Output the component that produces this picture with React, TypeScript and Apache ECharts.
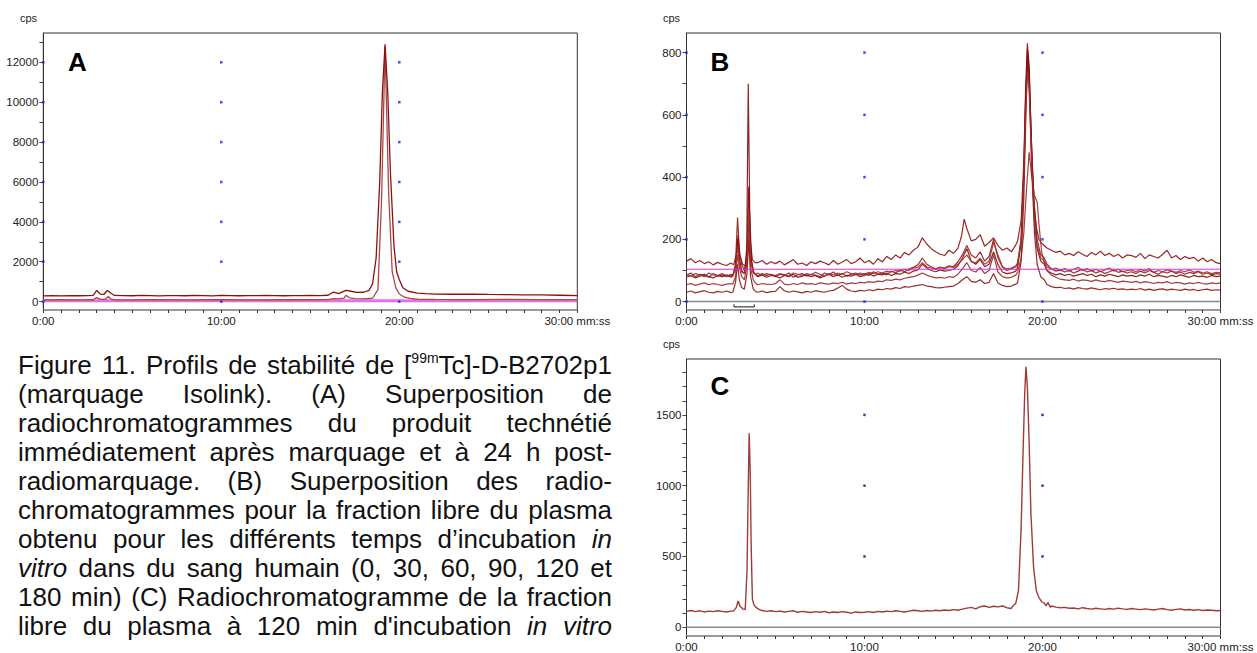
import React, { useEffect, useRef } from "react";
import * as echarts from "echarts";

// ---------- DATA ----------
const STEP = 0.25; // minutes between baseline samples

// Panel A: two superposed chromatograms ([minutes, cps])
const A_UPPER: [number, number][] = [
  [0, 290], [0.5, 300], [1, 285], [1.5, 305], [2, 295], [2.5, 300], [2.8, 310], [3.0, 560], [3.2, 380], [3.4, 360],
  [3.6, 560], [3.8, 420], [4.0, 310], [4.5, 300], [5, 295], [5.5, 310], [6, 300], [6.5, 290], [7, 305], [7.5, 300],
  [8, 295], [8.5, 310], [9, 300], [9.5, 285], [10, 310], [10.5, 300], [11, 295], [11.5, 305], [12, 300], [12.5, 310],
  [13, 300], [13.5, 295], [14, 305], [14.5, 300], [15, 310], [15.5, 305], [16, 320], [16.3, 480], [16.6, 400], [17.0, 560],
  [17.3, 520], [17.6, 460], [18.0, 470], [18.3, 560], [18.5, 900], [18.7, 2200], [18.9, 6000], [19.05, 10500], [19.2, 12900], [19.35, 10500],
  [19.5, 6500], [19.7, 2800], [19.85, 1500], [20.0, 1100], [20.2, 700], [20.5, 520], [21, 430], [21.5, 400], [22, 380], [23, 370],
  [24, 375], [25, 360], [26, 350], [27, 335], [28, 340], [29, 320], [30, 300],
];
const A_LOWER: [number, number][] = [
  [0, 90], [1, 95], [2, 90], [2.8, 95], [3.0, 200], [3.2, 110], [3.5, 120], [3.65, 260], [3.8, 130], [4.0, 95],
  [5, 90], [6, 95], [8, 90], [10, 95], [12, 90], [14, 95], [16, 100], [16.3, 150], [16.6, 140], [16.9, 180],
  [17.0, 320], [17.2, 190], [17.5, 150], [18, 140], [18.5, 170], [18.8, 600], [19.0, 5000], [19.2, 12800], [19.4, 5500], [19.6, 1500],
  [19.8, 700], [20.0, 380], [20.3, 220], [20.6, 160], [21, 120], [22, 110], [24, 105], [26, 110], [28, 100], [30, 105],
];
const A_THRESHOLD = 60;
const A_TICKS = [0, 1000, 2000, 3000, 4000, 5000, 6000, 7000, 8000, 9000, 10000, 11000, 12000, 13000];
const A_LABELS = [0, 2000, 4000, 6000, 8000, 10000, 12000];

// Panel B: six incubation times, baseline values every STEP minutes + peak clusters
const B1_BASE = [
  130, 138, 125, 132, 122, 128, 118, 126, 120, 116, 124, 130, 140, 130, 125, 128, 125, 132, 120, 128,
  122, 130, 118, 126, 135, 120, 124, 116, 128, 122, 130, 125, 118, 132, 120, 127, 135, 122, 128, 140,
  125, 132, 120, 138, 128, 145, 135, 150, 140, 158, 150, 165, 175, 205, 185, 170, 160, 152, 148, 165,
  155, 172, 205, 250, 195, 200, 215, 178, 190, 205, 180, 165, 172, 160, 182, 200, 500, 800, 400, 210,
  190, 172, 165, 158, 162, 150, 155, 148, 160, 152, 145, 158, 150, 162, 148, 155, 145, 152, 140, 150,
  148, 142, 155, 138, 150, 145, 140, 152, 165, 140, 148, 135, 145, 138, 142, 130, 140, 128, 135, 125, 122,
];
const B1_PEAKS: [number, number][][] = [
  [[2.65, 118], [2.8, 150], [2.9, 215], [3.0, 150], [3.15, 120], [3.3, 115], [3.42, 200], [3.5, 370], [3.58, 200], [3.7, 135], [3.85, 125]],
  [[15.45, 210], [15.6, 265], [15.75, 235]],
  [[18.6, 195], [18.8, 260], [18.95, 450], [19.05, 680], [19.15, 830], [19.25, 760], [19.35, 560], [19.5, 330], [19.65, 240], [19.8, 200], [20.0, 185]],
];
const B2_BASE = [
  85, 92, 80, 88, 84, 78, 90, 82, 86, 80, 84, 95, 100, 90, 95, 88, 82, 90, 84, 88,
  80, 88, 84, 92, 78, 86, 90, 82, 88, 84, 80, 92, 86, 95, 84, 90, 82, 88, 92, 86,
  90, 84, 96, 88, 92, 86, 98, 92, 102, 96, 105, 110, 118, 140, 120, 112, 105, 110, 108, 115,
  112, 128, 150, 180, 150, 140, 160, 130, 145, 200, 140, 110, 100, 105, 112, 120, 300, 600, 300, 160,
  140, 120, 105, 98, 102, 95, 100, 92, 98, 104, 95, 100, 92, 98, 90, 96, 102, 94, 98, 92,
  96, 90, 98, 92, 100, 94, 88, 96, 92, 98, 90, 95, 88, 94, 90, 96, 88, 92, 86, 90, 88,
];
const B2_PEAKS: [number, number][][] = [
  [[2.6, 82], [2.75, 120], [2.87, 270], [2.97, 160], [3.1, 120], [3.25, 100], [3.4, 140], [3.5, 360], [3.6, 150], [3.75, 95], [3.9, 88]],
  [[18.6, 120], [18.8, 200], [18.95, 420], [19.05, 650], [19.15, 790], [19.25, 720], [19.4, 480], [19.55, 300], [19.7, 200], [19.9, 150], [20.1, 140]],
];
const B3_BASE = [
  78, 84, 76, 82, 88, 80, 76, 84, 80, 86, 78, 84, 90, 86, 82, 84, 80, 86, 78, 84,
  82, 76, 84, 80, 88, 78, 82, 86, 80, 84, 76, 82, 88, 80, 86, 78, 84, 82, 88, 80,
  84, 90, 82, 88, 86, 92, 84, 90, 88, 95, 90, 98, 102, 120, 108, 100, 96, 102, 98, 100,
  104, 115, 140, 170, 130, 120, 135, 112, 120, 160, 118, 95, 90, 92, 98, 110, 280, 560, 300, 150,
  120, 100, 92, 86, 90, 84, 88, 82, 86, 90, 84, 88, 80, 86, 82, 88, 84, 80, 86, 82,
  84, 80, 86, 82, 88, 80, 84, 82, 78, 84, 80, 86, 82, 78, 84, 80, 82, 78, 84, 80, 82,
];
const B3_PEAKS: [number, number][][] = [
  [[2.6, 84], [2.75, 110], [2.87, 200], [2.97, 140], [3.1, 100], [3.25, 90], [3.38, 150], [3.47, 700], [3.55, 300], [3.65, 130], [3.8, 90], [3.95, 84]],
  [[18.6, 110], [18.8, 190], [18.95, 400], [19.05, 640], [19.15, 810], [19.25, 740], [19.4, 460], [19.55, 260], [19.7, 170], [19.9, 130], [20.1, 120]],
];
const B4_BASE = [
  55, 58, 52, 56, 60, 54, 58, 55, 52, 56, 58, 60, 62, 58, 55, 56, 54, 58, 56, 55,
  58, 70, 56, 54, 58, 55, 60, 56, 58, 55, 60, 58, 56, 60, 58, 62, 56, 60, 58, 62,
  60, 64, 62, 66, 64, 70, 68, 72, 70, 75, 78, 80, 85, 92, 85, 80, 76, 78, 75, 80,
  78, 88, 105, 125, 100, 95, 110, 90, 100, 150, 95, 80, 76, 78, 85, 95, 160, 300, 470, 330,
  140, 100, 85, 78, 72, 70, 68, 72, 66, 70, 68, 65, 70, 66, 64, 68, 65, 62, 66, 64,
  62, 65, 60, 64, 62, 58, 62, 60, 64, 58, 62, 60, 56, 60, 58, 62, 58, 56, 60, 58, 60,
];
const B4_PEAKS: [number, number][][] = [
  [[2.6, 56], [2.75, 80], [2.87, 150], [2.97, 110], [3.1, 80], [3.25, 70], [3.4, 120], [3.5, 250], [3.6, 110], [3.75, 70], [3.9, 58]],
  [[18.6, 95], [18.8, 140], [18.95, 220], [19.1, 360], [19.25, 480], [19.4, 400], [19.55, 340], [19.7, 320], [19.8, 250], [19.95, 160], [20.1, 125]],
];
const B5_BASE = [
  30, 34, 28, 32, 35, 30, 28, 33, 30, 34, 29, 32, 35, 30, 28, 32, 30, 34, 29, 32,
  33, 48, 35, 30, 34, 31, 28, 33, 30, 35, 32, 30, 34, 36, 44, 52, 40, 34, 32, 36,
  34, 38, 35, 40, 38, 42, 40, 45, 42, 48, 46, 50, 52, 55, 50, 48, 45, 44, 46, 48,
  50, 58, 70, 80, 65, 62, 70, 58, 62, 90, 60, 52, 48, 50, 56, 65, 300, 600, 300, 100,
  70, 55, 48, 45, 46, 42, 44, 40, 45, 42, 40, 44, 41, 38, 42, 40, 43, 39, 41, 38,
  40, 38, 42, 37, 40, 36, 39, 41, 37, 40, 38, 36, 40, 37, 39, 35, 38, 40, 36, 38, 37,
];
const B5_PEAKS: [number, number][][] = [
  [[2.6, 30], [2.75, 60], [2.87, 120], [2.97, 70], [3.1, 45], [3.25, 40], [3.4, 90], [3.5, 200], [3.6, 80], [3.75, 40], [3.9, 32]],
  [[18.6, 60], [18.8, 130], [18.95, 330], [19.05, 560], [19.15, 760], [19.25, 700], [19.4, 420], [19.55, 220], [19.7, 120], [19.9, 80], [20.1, 70]],
];
const B6_BASE = [
  88, 82, 90, 86, 80, 92, 86, 84, 90, 82, 88, 92, 96, 88, 90, 86, 92, 84, 90, 86,
  84, 90, 86, 82, 92, 88, 84, 90, 86, 94, 88, 82, 90, 86, 92, 88, 96, 90, 86, 92,
  88, 94, 90, 96, 92, 98, 95, 100, 98, 104, 100, 108, 110, 125, 112, 108, 104, 110, 106, 112,
  110, 120, 135, 150, 128, 125, 140, 120, 130, 190, 150, 112, 105, 108, 115, 125, 300, 550, 300, 150,
  130, 112, 104, 108, 100, 106, 98, 104, 110, 100, 106, 98, 104, 96, 102, 108, 98, 104, 96, 100,
  102, 96, 104, 98, 106, 94, 100, 96, 102, 98, 94, 100, 96, 102, 94, 98, 92, 96, 90, 94, 92,
];
const B6_PEAKS: [number, number][][] = [
  [[2.6, 86], [2.75, 100], [2.87, 180], [2.97, 120], [3.1, 95], [3.25, 90], [3.4, 130], [3.5, 300], [3.6, 130], [3.75, 92], [3.9, 88]],
  [[18.6, 125], [18.8, 200], [18.95, 400], [19.05, 600], [19.15, 740], [19.25, 680], [19.4, 440], [19.55, 260], [19.7, 180], [19.9, 140], [20.1, 130]],
];
const B_THRESHOLD = 104;
const B_BRACKET: [number, number][] = [[2.67, -9], [2.67, -17], [3.81, -17], [3.81, -9]];
const B_TICKS = [0, 100, 200, 300, 400, 500, 600, 700, 800];
const B_LABELS = [0, 200, 400, 600, 800];

// Panel C: plasma free fraction at 120 min
const C_BASE = [
  112, 118, 110, 116, 108, 114, 110, 116, 112, 108, 114, 118, 150, 130, 125, 140, 125, 118, 112, 116,
  110, 114, 108, 112, 116, 106, 112, 108, 104, 110, 106, 112, 102, 108, 104, 110, 106, 100, 108, 104,
  106, 110, 104, 112, 108, 114, 110, 116, 112, 108, 114, 120, 116, 112, 118, 114, 120, 116, 122, 118,
  124, 120, 128, 135, 140, 130, 145, 150, 140, 148, 144, 150, 138, 132, 140, 160, 300, 900, 1500, 1200,
  160, 165, 150, 142, 138, 140, 134, 136, 130, 138, 132, 128, 134, 130, 126, 132, 128, 135, 130, 126,
  132, 128, 124, 130, 126, 122, 128, 132, 124, 120, 126, 130, 122, 125, 120, 124, 118, 122, 120, 116, 118,
];
const C_PEAKS: [number, number][][] = [
  [[2.65, 115], [2.8, 140], [2.9, 185], [3.0, 150], [3.15, 130], [3.3, 125], [3.4, 400], [3.47, 1000], [3.52, 1370], [3.58, 1100], [3.63, 600], [3.7, 200], [3.78, 160], [3.9, 140], [4.1, 125]],
  [[18.3, 145], [18.5, 170], [18.65, 260], [18.8, 700], [18.9, 1200], [19.0, 1650], [19.07, 1840], [19.15, 1700], [19.25, 1300], [19.35, 800], [19.5, 420], [19.65, 260], [19.8, 210], [19.95, 180], [20.1, 170], [20.2, 150], [20.3, 175], [20.45, 140]],
];
const C_TICKS = [0, 100, 200, 300, 400, 500, 600, 700, 800, 900, 1000, 1100, 1200, 1300, 1400, 1500, 1600, 1700, 1800];
const C_LABELS = [0, 500, 1000, 1500];

const DOT_TIMES = [0, 10, 20];
const DOT_TIMES_C = [10, 20];

// ---------- HELPERS ----------
function merge(base: number[], peaks: [number, number][][]): [number, number][] {
  const pts: [number, number][] = [];
  base.forEach((v, i) => {
    const t = i * STEP;
    const inside = peaks.some((c) => t >= c[0][0] && t <= c[c.length - 1][0]);
    if (!inside) pts.push([t, v]);
  });
  peaks.forEach((c) => c.forEach((p) => pts.push(p)));
  pts.sort((a, b) => a[0] - b[0]);
  return pts;
}

function dots(times: number[], values: number[]): [number, number][] {
  const out: [number, number][] = [];
  times.forEach((t) => values.forEach((v) => out.push([t, v])));
  return out;
}

const FONT = "'Liberation Sans', Arial, sans-serif";
const LABEL_COLOR = "#222";

function xAxis(gridIndex: number) {
  return {
    type: "value",
    gridIndex,
    min: 0,
    max: 30,
    interval: 10,
    axisLine: { show: true, onZero: false, lineStyle: { color: "#9a9a9a", width: 1.5 } },
    axisTick: { show: true, inside: false, length: 3, lineStyle: { color: "#333" } },
    minorTick: { show: true, splitNumber: 10, length: 3, lineStyle: { color: "#333" } },
    splitLine: { show: false },
    minorSplitLine: { show: false },
    axisLabel: {
      show: true,
      margin: 5,
      fontSize: 11.5,
      fontFamily: FONT,
      color: LABEL_COLOR,
      showMaxLabel: true,
      showMinLabel: true,
      hideOverlap: false,
      formatter: (v: number) => (v === 30 ? "30:00 mm:ss" : `${v}:00`),
    },
  };
}

function yAxis(gridIndex: number, min: number, max: number, ticks: number[], labels: number[]) {
  return {
    type: "value",
    gridIndex,
    min,
    max,
    axisLine: { show: true, onZero: false, lineStyle: { color: "#333", width: 1 } },
    axisTick: { show: true, inside: false, length: 4, customValues: ticks, lineStyle: { color: "#444" } },
    splitLine: { show: false },
    axisLabel: {
      show: true,
      margin: 5,
      fontSize: 11.5,
      fontFamily: FONT,
      color: LABEL_COLOR,
      customValues: labels,
      formatter: (v: number) => `${v}`,
    },
  };
}

function trace(idx: number, data: [number, number][], color: string, width = 1.2, opacity = 1) {
  return {
    type: "line",
    xAxisIndex: idx,
    yAxisIndex: idx,
    data,
    showSymbol: false,
    symbol: "none",
    silent: true,
    lineStyle: { color, width, opacity },
    z: 3,
  };
}

function hline(idx: number, value: number, color: string, width: number, z = 2) {
  return {
    type: "line",
    xAxisIndex: idx,
    yAxisIndex: idx,
    data: [[0, value], [30, value]],
    showSymbol: false,
    symbol: "none",
    silent: true,
    lineStyle: { color, width },
    z,
  };
}

function dotSeries(idx: number, data: [number, number][], color: string) {
  return {
    type: "scatter",
    xAxisIndex: idx,
    yAxisIndex: idx,
    data,
    symbol: "rect",
    symbolSize: 2.5,
    silent: true,
    itemStyle: { color },
    z: 5,
  };
}

export default function App() {
  const ref = useRef<HTMLDivElement>(null);

  useEffect(() => {
    if (!ref.current) return;
    const chart = echarts.init(ref.current, undefined, { renderer: "svg" });

    const B_TRACES = [
      merge(B1_BASE, B1_PEAKS),
      merge(B2_BASE, B2_PEAKS),
      merge(B3_BASE, B3_PEAKS),
      merge(B4_BASE, B4_PEAKS),
      merge(B5_BASE, B5_PEAKS),
      merge(B6_BASE, B6_PEAKS),
    ];
    const B_COLORS = ["#8b1010", "#901c1c", "#7f0c0c", "#9a2a2a", "#8b1414", "#a03030"];

    const option: any = {
      animation: false,
      backgroundColor: "#fff",
      grid: [
        { left: 43.3, top: 33, width: 534, height: 277, show: true, borderColor: "#333", borderWidth: 1 },
        { left: 686.5, top: 33, width: 534, height: 277, show: true, borderColor: "#333", borderWidth: 1 },
        { left: 686.5, top: 359, width: 534, height: 277, show: true, borderColor: "#333", borderWidth: 1 },
      ],
      xAxis: [xAxis(0), xAxis(1), xAxis(2)],
      yAxis: [
        yAxis(0, -420, 13470, A_TICKS, A_LABELS),
        yAxis(1, -27, 863, B_TICKS, B_LABELS),
        yAxis(2, -62, 1895, C_TICKS, C_LABELS),
      ],
      series: [
        // A
        hline(0, 0, "#8a8a8a", 1.5, 1),
        hline(0, A_THRESHOLD, "#f36cf3", 2.5, 2),
        trace(0, A_LOWER, "#a84848", 1.3),
        trace(0, A_UPPER, "#8b1010", 1.3),
        dotSeries(0, dots(DOT_TIMES, A_LABELS), "#1a1aff"),
        // B
        hline(1, 0, "#8a8a8a", 1.5, 1),
        ...B_TRACES.map((d, i) => trace(1, d, B_COLORS[i], 1.2, 0.9)),
        hline(1, B_THRESHOLD, "#e32ce3", 1, 4),
        {
          type: "line",
          xAxisIndex: 1,
          yAxisIndex: 1,
          data: B_BRACKET,
          showSymbol: false,
          symbol: "none",
          silent: true,
          lineStyle: { color: "#111", width: 1 },
          z: 4,
        },
        dotSeries(1, dots(DOT_TIMES, B_LABELS), "#1a1aff"),
        // C
        hline(2, 0, "#8a8a8a", 1.5, 1),
        trace(2, merge(C_BASE, C_PEAKS), "#a03a3a", 1.4),
        dotSeries(2, dots(DOT_TIMES_C, C_LABELS.filter((v) => v > 0)), "#101080"),
      ],
      graphic: [
        { type: "text", left: 20, top: 12, style: { text: "cps", fontSize: 11, fontFamily: FONT, fill: LABEL_COLOR } },
        { type: "text", left: 663, top: 12, style: { text: "cps", fontSize: 11, fontFamily: FONT, fill: LABEL_COLOR } },
        { type: "text", left: 663, top: 338, style: { text: "cps", fontSize: 11, fontFamily: FONT, fill: LABEL_COLOR } },
        { type: "text", x: 68, y: 61.5, style: { text: "A", fontSize: 26, fontWeight: "bold", fontFamily: FONT, fill: "#000", verticalAlign: "middle" } },
        { type: "text", x: 710.5, y: 61.5, style: { text: "B", fontSize: 26, fontWeight: "bold", fontFamily: FONT, fill: "#000", verticalAlign: "middle" } },
        { type: "text", x: 710.5, y: 386, style: { text: "C", fontSize: 26, fontWeight: "bold", fontFamily: FONT, fill: "#000", verticalAlign: "middle" } },
      ],
    };

    chart.setOption(option);
    return () => chart.dispose();
  }, []);

  const line: React.CSSProperties = { textAlign: "justify", textAlignLast: "justify", height: 29 } as any;

  return (
    <div style={{ position: "absolute", left: 0, top: 0, width: 1257, height: 653, background: "#fff" }}>
      <div ref={ref} style={{ position: "absolute", left: 0, top: 0, width: 1257, height: 653 }} />
      <div
        style={{
          position: "absolute",
          left: 18,
          top: 351,
          width: 594,
          fontFamily: FONT,
          fontSize: 26,
          lineHeight: "29px",
          color: "#111",
        }}
      >
        <div style={line}>
          Figure 11. Profils de stabilité de [
          <span style={{ fontSize: 14, position: "relative", top: -11 }}>99m</span>
          Tc]-D-B2702p1
        </div>
        <div style={line}>(marquage Isolink). (A) Superposition de</div>
        <div style={line}>radiochromatogrammes du produit technétié</div>
        <div style={line}>immédiatement après marquage et à 24&nbsp;h post-</div>
        <div style={line}>radiomarquage. (B) Superposition des radio-</div>
        <div style={line}>chromatogrammes pour la fraction libre du plasma</div>
        <div style={line}>
          obtenu pour les différents temps d’incubation <i>in</i>
        </div>
        <div style={line}>
          <i>vitro</i> dans du sang humain (0, 30, 60, 90, 120 et
        </div>
        <div style={line}>180 min) (C) Radiochromatogramme de la fraction</div>
        <div style={line}>
          libre du plasma à 120&nbsp;min d'incubation <i>in vitro</i>
        </div>
      </div>
    </div>
  );
}
